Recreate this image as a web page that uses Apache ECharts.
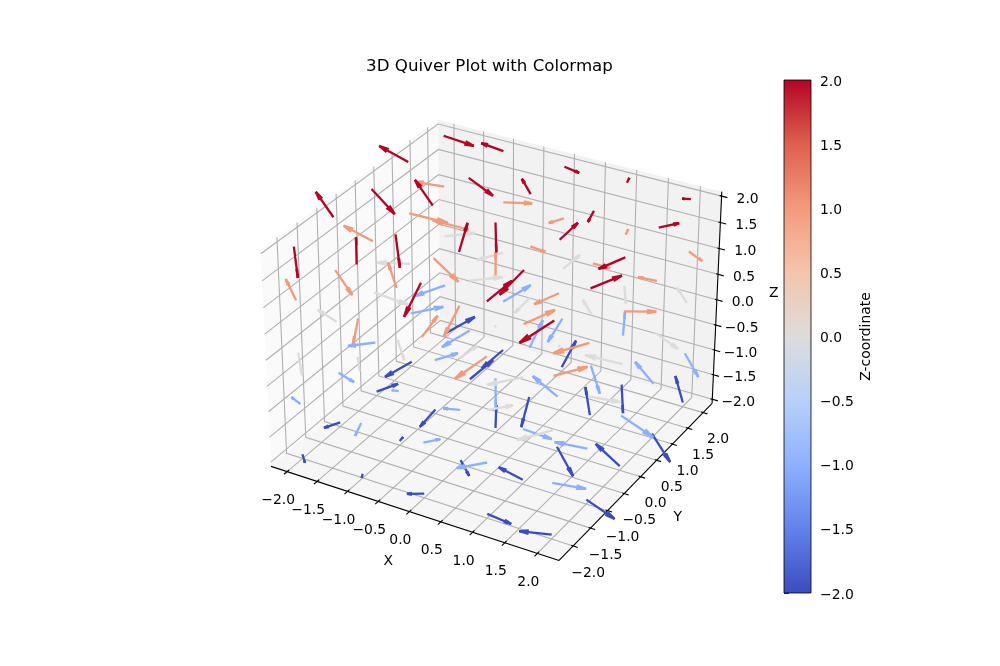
<!DOCTYPE html>
<html><head><meta charset="utf-8">
<script src="https://cdn.jsdelivr.net/npm/echarts@6/dist/echarts.min.js"></script>
<style>html,body{margin:0;padding:0;background:#fff}#c{width:1000px;height:666px}</style></head>
<body><div id="c"></div>
<script>
// grid of arrow tails; components run z -> y -> x
const gridValues=[-2,-1,0,1,2];
const uValues=[
 0.07,0.01,-0.20,0.33,-0.40, -0.17,0.02,0.18,-0.35,0.43, 0.23,-0.11,-0.10,0.34,-0.40, -0.27,0.20,0.04,-0.19,0.36, 0.30,-0.19,0.06,0.15,-0.22,
 -0.14,-0.01,0.18,-0.33,0.42, 0.23,-0.09,-0.21,0.39,-0.42, -0.32,0.25,0.14,-0.40,0.49, 0.38,-0.27,0.04,0.24,-0.33, -0.34,0.28,-0.08,-0.08,0.28,
 0.15,-0.09,0.02,0.28,-0.37, -0.28,0.17,0.15,-0.40,0.40, 0.47,0.02,-0.02,0.02,-0.49, -0.42,0.40,-0.12,-0.18,0.35, 0.37,-0.30,0.15,0.10,-0.19,
 -0.21,0.05,0.09,-0.27,0.35, 0.31,-0.21,-0.05,0.31,-0.38, -0.42,0.40,-0.10,-0.25,0.39, 0.52,-0.49,0.21,0.23,-0.25, -0.39,0.37,-0.17,0.01,0.21,
 0.18,-0.12,-0.05,0.20,-0.30, -0.31,0.19,-0.02,-0.18,0.31, 0.38,-0.32,0.13,0.15,-0.27, -0.42,0.37,-0.17,-0.03,0.23, 0.42,-0.31,0.21,0.01,-0.11];
const vValues=[
 -0.05,-0.04,-0.13,0.08,-0.18, -0.17,0.06,-0.07,-0.06,0.02, 0.23,-0.26,0.20,-0.14,0.03, -0.33,0.34,-0.31,0.21,-0.12, 0.37,-0.31,0.33,-0.23,0.18,
 -0.01,-0.15,0.15,-0.25,0.17, 0.04,-0.04,-0.11,0.11,-0.16, -0.24,0.23,-0.24,0.00,0.03, 0.30,-0.34,0.32,-0.17,0.06, -0.32,0.34,-0.30,0.21,-0.11,
 -0.15,0.10,0.02,0.21,-0.31, -0.05,-0.11,0.22,-0.30,0.16, 0.16,-0.02,0.02,0.02,-0.17, -0.24,0.27,-0.23,0.06,0.02, 0.26,-0.25,0.23,-0.13,0.06,
 0.08,-0.22,0.27,-0.38,0.28, -0.06,0.13,-0.34,0.31,-0.31, -0.10,0.00,0.18,-0.25,0.20, 0.22,-0.19,0.06,0.08,-0.09, -0.18,0.20,-0.14,0.06,0.01,
 -0.20,0.19,-0.36,0.31,-0.38, 0.05,-0.21,0.27,-0.34,0.29, -0.01,0.06,-0.21,0.24,-0.25, -0.10,0.04,0.05,-0.12,0.16, 0.15,-0.10,0.05,0.05,-0.05];
const wValues=[
 -0.11,-0.05,0.00,-0.12,0.03, -0.07,0.05,-0.20,0.15,-0.22, 0.10,-0.23,0.30,-0.37,0.27, -0.21,0.26,-0.41,0.37,-0.36, 0.23,-0.26,0.37,-0.39,0.35,
 0.09,-0.16,0.04,-0.07,-0.06, -0.13,0.01,0.02,-0.12,0.07, -0.04,0.09,-0.39,0.26,-0.26, 0.09,-0.23,0.38,-0.37,0.28, -0.15,0.24,-0.33,0.33,-0.31,
 -0.29,0.18,0.02,0.06,-0.13, 0.17,-0.26,0.16,-0.11,-0.06, -0.18,0.02,0.02,-0.02,0.10, 0.02,0.05,-0.21,0.20,-0.20, 0.05,-0.11,0.20,-0.24,0.20,
 0.28,-0.31,0.27,-0.28,0.12, -0.34,0.33,-0.40,0.19,-0.14, 0.22,-0.32,0.31,-0.15,0.01, -0.14,0.13,-0.07,-0.06,0.04, 0.07,-0.01,-0.07,0.08,-0.12,
 -0.41,0.35,-0.43,0.26,-0.28, 0.35,-0.44,0.38,-0.32,0.17, -0.35,0.35,-0.40,0.23,-0.16, 0.23,-0.25,0.21,-0.16,0.07, -0.15,0.11,-0.08,0.07,0.00];
const tickValues=[-2,-1.5,-1,-0.5,0,0.5,1,1.5,2];
const xLimits=[-2.27,2.33], yLimits=[-2.4,2.3], zLimits=[-2.085,2.085];
const colorStops=[[0,'#3b4cc0'],[.125,'#6282ea'],[.25,'#8db0fe'],[.375,'#b8d0f9'],[.5,'#dddcdc'],[.625,'#f5c4ad'],[.75,'#f49a7b'],[.875,'#de604d'],[1,'#b40426']];
const arrowColors={'-2':'#3b4cc0','-1':'#8db0fe','0':'#dddcdc','1':'#f49a7b','2':'#b40426'};

const box=[1.1905,1.1905,0.8929];
function proj(x,y,z){const a=(x-xLimits[0])/(xLimits[1]-xLimits[0])*box[0]-box[0]/2,b=(y-yLimits[0])/(yLimits[1]-yLimits[0])*box[1]-box[1]/2,c=(z-zLimits[0])/(zLimits[1]-zLimits[0])*box[2]-box[2]/2;
 const xv=.8660254*a+.5*b,yv=-.25*a+.4330127*b+.8660254*c,d=10-(.4330127*a-.75*b+.5*c);return [xv/d,yv/d,d];}
const arrows=[];let k=0;
for(const z of gridValues)for(const y of gridValues)for(const x of gridValues){arrows.push([x,y,z,uValues[k],vValues[k],wValues[k]]);k++;}
const fmt=t=>(t<0?'\u2212':'')+Math.abs(t).toFixed(1);
const [x0,x1]=xLimits,[y0,y1]=yLimits,[z0,z1]=zLimits;
const panes=[{c:'#fafafa',p:[[x0,y0,z0],[x0,y1,z0],[x0,y1,z1],[x0,y0,z1]]},{c:'#f2f2f2',p:[[x0,y1,z0],[x1,y1,z0],[x1,y1,z1],[x0,y1,z1]]},{c:'#f6f6f6',p:[[x0,y0,z0],[x1,y0,z0],[x1,y1,z0],[x0,y1,z0]]}];
const grids=[];tickValues.forEach(t=>{grids.push([[t,y0,z0],[t,y1,z0],[t,y1,z1]]);grids.push([[x1,t,z0],[x0,t,z0],[x0,t,z1]]);grids.push([[x0,y0,t],[x0,y1,t],[x1,y1,t]]);});
const axl=[[[x0,y0,z0],[x1,y0,z0]],[[x1,y0,z0],[x1,y1,z0]],[[x1,y1,z0],[x1,y1,z1]]];
tickValues.forEach(t=>{axl.push([[t,y0-.08,z0],[t,y0+.05,z0]]);axl.push([[x1-.03,t,z0],[x1+.07,t,z0]]);axl.push([[x1-.03,y1,t],[x1+.09,y1,t]]);});
const F='"DejaVu Sans"';
const texts=[];tickValues.forEach(t=>{texts.push([[t,y0,z0],-9,29,fmt(t)]);texts.push([[x1,t,z0],15,27,fmt(t)]);texts.push([[x1,y1,t],26,3,fmt(t)]);});
texts.push([[0,y0,z0],-21,50,'X'],[[x1,0,z0],37,41,'Y'],[[x1,y1,0],57,-6,'Z']);
const pc=(api,p)=>api.coord(proj(p[0],p[1],p[2]).slice(0,2));
const c=15*Math.PI/180,cc=Math.cos(c),ss=Math.sin(c);
function heads(u,v,w){const nn=Math.hypot(u,v)||1,xp=v/nn,yp=-u/nn;return [1,-1].map(sg=>{const s=ss*sg,r13=yp*s,r32=xp*s,r12=xp*yp*(1-cc);return [(cc+xp*xp*(1-cc))*u+r12*v+r13*w,r12*u+(cc+yp*yp*(1-cc))*v-r32*w,-r13*u+r32*v+cc*w];});}
arrows.sort((a,b)=>proj(b[0]+b[3]/2,b[1]+b[4]/2,b[2]+b[5]/2)[2]-proj(a[0]+a[3]/2,a[1]+a[4]/2,a[2]+a[5]/2)[2]);
const chart=echarts.init(document.getElementById('c'),null,{renderer:'canvas'});
chart.setOption({animation:false,backgroundColor:'#fff',
title:{text:'3D Quiver Plot with Colormap',left:484.5,top:53,textAlign:'center',textStyle:{fontFamily:F,fontSize:16.67,fontWeight:'normal',color:'#000'}},
grid:[{left:232.3,width:512.8,top:80,height:512.8,show:false},{left:784,width:27,top:80,height:513,show:false}],
xAxis:[{type:'value',gridIndex:0,min:-.095,max:.09,show:false},{type:'value',gridIndex:1,min:0,max:1,show:false}],
yAxis:[{type:'value',gridIndex:0,min:-.095,max:.09,show:false},{type:'value',gridIndex:1,min:-2,max:2,interval:.5,position:'right',axisLine:{show:false},axisTick:{show:true,length:4.9,lineStyle:{color:'#000',width:.8}},splitLine:{show:false},axisLabel:{margin:9,formatter:v=>'{a|'+fmt(v)+'}',rich:{a:{fontFamily:F,fontSize:13.9,color:'#000',padding:[4,0,0,0]}}},name:'Z-coordinate',nameLocation:'middle',nameRotate:90,nameGap:48,nameTextStyle:{fontFamily:F,fontSize:13.9,color:'#000'}}],
series:[
{type:'custom',coordinateSystem:'cartesian2d',xAxisIndex:0,yAxisIndex:0,clip:false,silent:true,z:1,data:panes.map((p,i)=>[i]),renderItem:(o,api)=>{const p=panes[api.value(0)];return {type:'polygon',shape:{points:p.p.map(q=>pc(api,q))},style:{fill:p.c,stroke:null}}}},
{type:'custom',coordinateSystem:'cartesian2d',xAxisIndex:0,yAxisIndex:0,clip:false,silent:true,z:2,data:grids.map((p,i)=>[i]),renderItem:(o,api)=>({type:'polyline',shape:{points:grids[api.value(0)].map(q=>pc(api,q))},style:{fill:null,stroke:'#b0b0b0',lineWidth:1.1}})},
{type:'custom',coordinateSystem:'cartesian2d',xAxisIndex:0,yAxisIndex:0,clip:false,silent:true,z:3,data:axl.map((p,i)=>[i]),renderItem:(o,api)=>({type:'polyline',shape:{points:axl[api.value(0)].map(q=>pc(api,q))},style:{fill:null,stroke:'#000',lineWidth:1.1}})},
{type:'custom',coordinateSystem:'cartesian2d',xAxisIndex:0,yAxisIndex:0,clip:false,silent:true,z:3,data:texts.map((p,i)=>[i]),renderItem:(o,api)=>{const t=texts[api.value(0)],q=pc(api,t[0]);return {type:'text',style:{text:t[3],x:q[0]+t[1],y:q[1]+t[2],fill:'#000',font:'13.9px '+F,textAlign:'center',textVerticalAlign:'middle'}}}},
{type:'custom',coordinateSystem:'cartesian2d',xAxisIndex:0,yAxisIndex:0,clip:false,silent:true,z:4,data:arrows,renderItem:(o,api)=>{const a=[0,1,2,3,4,5].map(i=>api.value(i));const tip=[a[0]+a[3],a[1]+a[4],a[2]+a[5]];const col=arrowColors[a[2]];const st={fill:null,stroke:col,lineWidth:2.3,lineCap:'butt'};const ch=[{type:'polyline',shape:{points:[pc(api,a),pc(api,tip)]},style:st}];heads(a[3],a[4],a[5]).forEach(h=>ch.push({type:'polyline',shape:{points:[pc(api,tip),pc(api,[tip[0]-.3*h[0],tip[1]-.3*h[1],tip[2]-.3*h[2]])]},style:st}));return {type:'group',children:ch}}},
{type:'custom',coordinateSystem:'cartesian2d',xAxisIndex:1,yAxisIndex:1,clip:false,silent:true,z:1,data:[[0,-2,1,2]],renderItem:(o,api)=>{const a=api.coord([0,2]),b=api.coord([1,-2]);return {type:'rect',shape:{x:a[0],y:a[1],width:b[0]-a[0],height:b[1]-a[1]},style:{stroke:'#000',lineWidth:.8,fill:new echarts.graphic.LinearGradient(0,1,0,0,colorStops.map(s=>({offset:s[0],color:s[1]})))}}}}
]});
</script></body></html>
